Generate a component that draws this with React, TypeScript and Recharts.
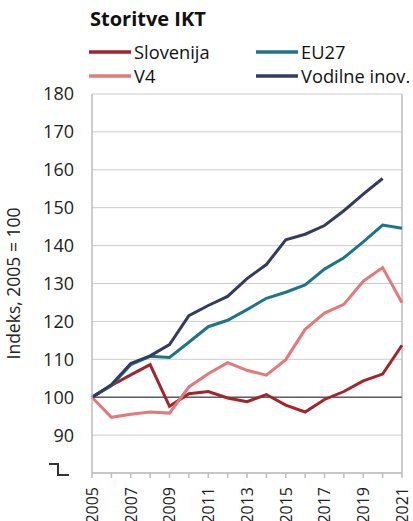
import React from 'react';
import { LineChart, Line, XAxis, YAxis, CartesianGrid, ReferenceLine } from 'recharts';

const years = [2005, 2006, 2007, 2008, 2009, 2010, 2011, 2012, 2013, 2014, 2015, 2016, 2017, 2018, 2019, 2020, 2021];
const slovenija = [100, 103.1, 105.9, 108.6, 97.6, 100.9, 101.5, 99.8, 98.8, 100.7, 97.9, 96.1, 99.4, 101.5, 104.3, 106.1, 113.7];
const v4 = [100, 94.7, 95.5, 96.1, 95.8, 102.7, 106.2, 109.1, 107.1, 105.8, 109.9, 117.9, 122.2, 124.5, 130.6, 134.2, 124.9];
const eu27 = [100, 103.1, 108.6, 110.8, 110.5, 114.5, 118.6, 120.3, 123.1, 126.1, 127.7, 129.6, 133.8, 136.8, 141.0, 145.4, 144.6];
const vodilne = [100, 103.3, 108.9, 110.9, 113.9, 121.5, 124.2, 126.6, 131.3, 135.0, 141.5, 143.0, 145.3, 149.2, 153.6, 157.7, null];

const seriesNames = ['Slovenija', 'V4', 'EU27', 'Vodilne inov.'];
const seriesColors = ['#a3242c', '#e4787a', '#1b768b', '#333c5f'];
const yTicks = [80, 90, 100, 110, 120, 130, 140, 150, 160, 170, 180];
const xLabelYears = [2005, 2007, 2009, 2011, 2013, 2015, 2017, 2019, 2021];
const titleText = 'Storitve IKT';
const yLabelText = 'Indeks, 2005 = 100';

const seriesValues = [slovenija, v4, eu27, vodilne];
const data = years.map((y, i) => {
  const row: any = { year: y };
  seriesNames.forEach((n, k) => {
    row[n] = seriesValues[k][i];
  });
  return row;
});

const FONT = '"Open Sans", "DejaVu Sans", sans-serif';

const XTick = (props: any) => {
  const { x, y, payload } = props;
  if (!xLabelYears.includes(payload.value)) return null;
  return (
    <text
      x={x}
      y={y + 9}
      transform={`rotate(-90, ${x}, ${y + 9})`}
      textAnchor="end"
      dy="0.36em"
      fontSize={16}
      fontFamily={FONT}
      fill="#222"
    >
      {payload.value}
    </text>
  );
};

const YTick = (props: any) => {
  const { x, y, payload } = props;
  if (payload.value === 80) {
    return (
      <path
        d={`M ${x - 25} ${y - 9} L ${x - 16} ${y - 9} L ${x - 16} ${y + 2} L ${x - 5} ${y + 2}`}
        stroke="#333"
        strokeWidth={2}
        fill="none"
      />
    );
  }
  return (
    <text x={x} y={y} dy="0.36em" textAnchor="end" fontSize={18} fontFamily={FONT} fill="#222">
      {payload.value}
    </text>
  );
};

const legendPos = [
  { x: 89, y: 52 },
  { x: 89, y: 76 },
  { x: 256, y: 52 },
  { x: 256, y: 76 },
];

export default function App() {
  return (
    <div style={{ position: 'absolute', left: 0, top: 0, width: 413, height: 521, background: '#fff', fontFamily: FONT }}>
      <svg width={413} height={90} style={{ position: 'absolute', left: 0, top: 0 }}>
        <text x={90} y={26} fontSize={20} fontWeight="bold" fontFamily={FONT} fill="#111">
          {titleText}
        </text>
        {seriesNames.map((n, i) => (
          <g key={n}>
            <line x1={legendPos[i].x} x2={legendPos[i].x + 42} y1={legendPos[i].y} y2={legendPos[i].y} stroke={seriesColors[i]} strokeWidth={3.5} />
            <text x={legendPos[i].x + 45} y={legendPos[i].y} dy="0.36em" fontSize={18.3} fontFamily={FONT} fill="#111">
              {n}
            </text>
          </g>
        ))}
      </svg>
      <div style={{ position: 'absolute', left: 0, top: 0 }}>
        <LineChart width={413} height={521} data={data} margin={{ top: 94, right: 11, left: 0, bottom: 0 }}>
          <CartesianGrid horizontal={true} vertical={false} stroke="#cccccc" strokeWidth={1} />
          <XAxis
            dataKey="year"
            type="number"
            domain={[2005, 2021]}
            ticks={years}
            interval={0}
            height={48}
            tickSize={5}
            tickMargin={0}
            axisLine={{ stroke: '#bdbdbd', strokeWidth: 1.5 }}
            tickLine={{ stroke: '#bdbdbd', strokeWidth: 1.5 }}
            tick={<XTick />}
          />
          <YAxis
            type="number"
            domain={[80, 180]}
            ticks={yTicks}
            interval={0}
            width={92}
            tickSize={0}
            tickMargin={18}
            tickLine={false}
            axisLine={{ stroke: '#bdbdbd', strokeWidth: 1.5 }}
            tick={<YTick />}
            label={{ value: yLabelText, angle: -90, position: 'insideLeft', offset: 14, style: { textAnchor: 'middle', fontSize: 17.5, fontFamily: FONT, fill: '#222' } }}
          />
          <ReferenceLine x={2021} stroke="#bdbdbd" strokeWidth={1.5} />
          <ReferenceLine y={100} stroke="#5d6063" strokeWidth={1.5} />
          {seriesNames.map((n, i) => (
            <Line
              key={n}
              type="linear"
              dataKey={n}
              stroke={seriesColors[i]}
              strokeWidth={3}
              dot={false}
              activeDot={false}
              isAnimationActive={false}
              connectNulls={false}
            />
          ))}
        </LineChart>
      </div>
    </div>
  );
}
